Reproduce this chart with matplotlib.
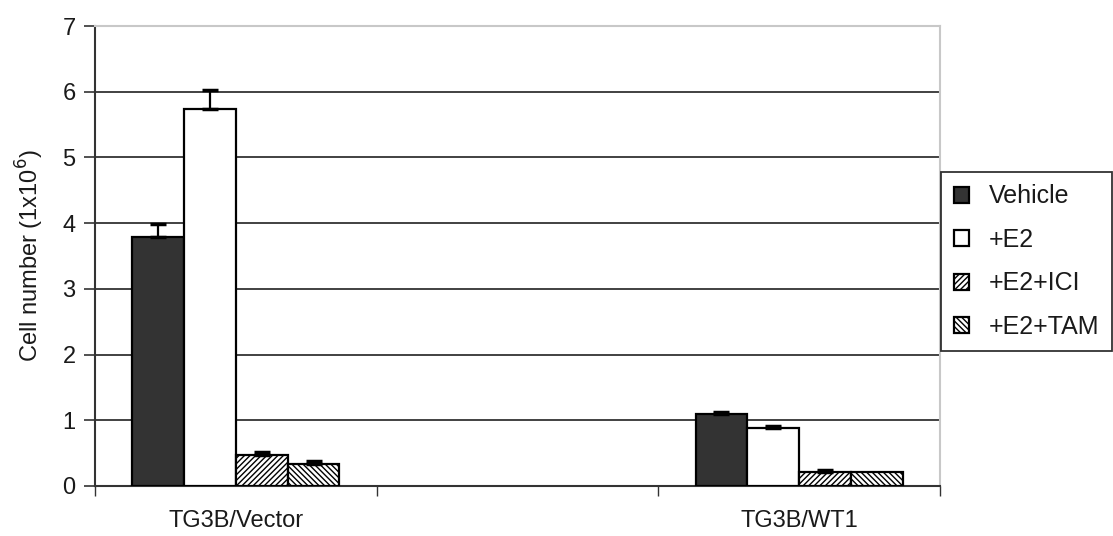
import matplotlib
matplotlib.use("Agg")
import matplotlib.pyplot as plt
import numpy as np

plt.rcParams['font.family'] = ['Liberation Sans', 'DejaVu Sans']
plt.rcParams['hatch.linewidth'] = 1.0

categories = ["TG3B/Vector", "", "TG3B/WT1"]
series = ["Vehicle", "+E2", "+E2+ICI", "+E2+TAM"]
vehicle = [3.79, np.nan, 1.10]
e2 = [5.74, np.nan, 0.88]
ici = [0.47, np.nan, 0.21]
tam = [0.34, np.nan, 0.21]
vehicle_err = [0.20, 0, 0.03]
e2_err = [0.28, 0, 0.03]
ici_err = [0.04, 0, 0.04]
tam_err = [0.04, 0, 0.0]

values = [vehicle, e2, ici, tam]
errors = [vehicle_err, e2_err, ici_err, tam_err]
faces = ["#333333", "white", "white", "white"]
hatches = [None, None, "//////", "\\\\\\\\\\\\"]

fig = plt.figure(figsize=(11.13, 5.36), dpi=100)
ax = fig.add_axes([95/1113, 1-486/536, 845/1113, 460/536])

x = np.arange(len(categories))
w = 0.184
for i, (vals, errs) in enumerate(zip(values, errors)):
    pos = x + (i - 1.5) * w
    vals_arr = np.array(vals, dtype=float)
    ax.bar(pos, vals_arr, w, color=faces[i], edgecolor="black", linewidth=1.6,
           hatch=hatches[i], label=series[i], zorder=3)
    err = np.array(errs, dtype=float)
    mask = ~np.isnan(vals_arr) & (err > 0)
    ax.errorbar(pos[mask], vals_arr[mask], yerr=[np.zeros(mask.sum()), err[mask]],
                fmt="none", ecolor="black", elinewidth=1.6, capsize=6, capthick=2.5, zorder=4)

ax.set_xlim(-0.5, 2.5)
ax.set_ylim(0, 7)
ax.set_yticks(range(8))
ax.yaxis.grid(True, color="#333333", linewidth=1.3, zorder=0)
ax.set_axisbelow(True)

ax.set_xticks([-0.5, 0.5, 1.5, 2.5])
ax.set_xticklabels([])
ax.tick_params(axis="x", direction="out", length=7, width=1, color="#333333")
for xi, lab in zip(x, categories):
    if lab:
        ax.text(xi, -0.53, lab, ha="center", va="center", fontsize=17, color="#1a1a1a",
                transform=ax.transData)

ax.tick_params(axis="y", direction="out", length=8, width=1.2, labelsize=17, pad=6,
               color="#333333", labelcolor="#1a1a1a")
ax.set_ylabel("Cell number (1x10$^{6}$)", fontsize=17, labelpad=12, color="#1a1a1a")

for s in ["left", "bottom"]:
    ax.spines[s].set_color("#333333")
    ax.spines[s].set_linewidth(1.5)
for s in ["top", "right"]:
    ax.spines[s].set_color("#c8c8c8")
    ax.spines[s].set_linewidth(1.5)

leg = fig.legend(loc="upper left", bbox_to_anchor=(941/1113, 1-172/536), fontsize=18,
                 frameon=True, fancybox=False, edgecolor="black", handlelength=0.6,
                 handleheight=0.6, handletextpad=0.8, labelspacing=0.78,
                 borderpad=0.5, borderaxespad=0)
leg.get_frame().set_linewidth(1.3)
for t in leg.get_texts():
    t.set_color("#1a1a1a")

fig.savefig("out.png", dpi=100)
